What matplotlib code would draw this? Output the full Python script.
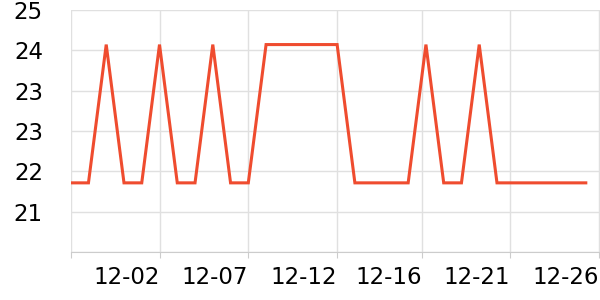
import numpy as np
import matplotlib.pyplot as plt

# daily values (index = day), 24.0 high / 21.6 low
values = [21.6, 21.6, 24.0, 21.6, 21.6, 24.0, 21.6, 21.6, 24.0, 21.6,
          21.6, 24.0, 24.0, 24.0, 24.0, 24.0, 21.6, 21.6, 21.6, 21.6,
          24.0, 21.6, 21.6, 24.0, 21.6, 21.6, 21.6, 21.6, 21.6, 21.6]
tick_pos = [0, 5, 10, 15, 19.8, 24.75, 29.75]
tick_labels = ['', '12-02', '12-07', '12-12', '12-16', '12-21', '12-26']
y_ticks = [20.4, 21.1, 21.8, 22.5, 23.2, 23.9, 24.6]
y_labels = ['', '21', '22', '23', '23', '24', '25']

fig = plt.figure(figsize=(6, 3), dpi=100)
ax = fig.add_axes([70.7 / 600, 1 - 252 / 300, 1 - 70.7 / 600, 242 / 300])

x = np.arange(len(values))
ax.plot(x, values, color='#ef4c2f', lw=2.2, solid_joinstyle='miter', zorder=3)

ax.set_xlim(0, 29.8)
ax.set_ylim(20.4, 24.6)
ax.set_xticks(tick_pos)
ax.set_xticklabels(tick_labels, ha='right', fontsize=16.5)
ax.set_yticks(y_ticks)
ax.set_yticklabels(y_labels, fontsize=16.5)

ax.grid(True, color='#e0e0e0', lw=1)
ax.set_axisbelow(True)
for s in ['top', 'right', 'left']:
    ax.spines[s].set_visible(False)
ax.spines['bottom'].set_color('#cccccc')
ax.tick_params(axis='x', length=4, color='#cccccc', pad=6)
ax.tick_params(axis='y', length=0, pad=20)

fig.savefig('out.png', dpi=100)
